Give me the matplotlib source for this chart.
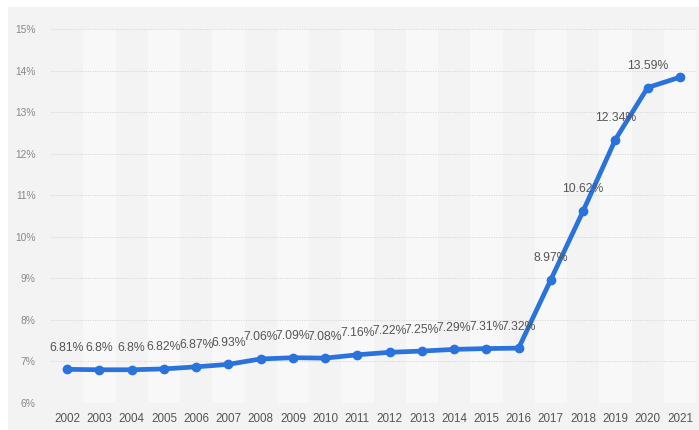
import numpy as np
import matplotlib.pyplot as plt
from matplotlib.patches import Rectangle

years = list(range(2002, 2022))
rates = [6.81, 6.8, 6.8, 6.82, 6.87, 6.93, 7.06, 7.09, 7.08, 7.16,
         7.22, 7.25, 7.29, 7.31, 7.32, 8.97, 10.62, 12.34, 13.59, 13.84]
labels = ['6.81%', '6.8%', '6.8%', '6.82%', '6.87%', '6.93%', '7.06%', '7.09%',
          '7.08%', '7.16%', '7.22%', '7.25%', '7.29%', '7.31%', '7.32%',
          '8.97%', '10.62%', '12.34%', '13.59%', '']
yticks = list(range(6, 16))

plt.rcParams['font.family'] = ['Liberation Sans', 'DejaVu Sans']

W, H = 699, 430
fig = plt.figure(figsize=(W / 100, H / 100), dpi=100, facecolor='white')
# grey panel behind the chart
fig.patches.append(Rectangle((8 / W, 0), 1, 1 - 7 / H, transform=fig.transFigure,
                             facecolor='#f3f3f3', edgecolor='none', zorder=-10))

ax = fig.add_axes([51 / W, 27 / H, (696 - 51) / W, (403 - 29) / H])
ax.set_facecolor('none')
ax.set_xlim(years[0] - 0.5, years[-1] + 0.5)
ax.set_ylim(6, 15)

# alternating column bands
for i, yr in enumerate(years):
    if i % 2 == 1:
        ax.axvspan(yr - 0.5, yr + 0.5, color='#f8f8f8', zorder=0, lw=0)

for t in yticks:
    ax.axhline(t, color='#d2d2d2', lw=0.7, ls=(0, (1, 1.5)), zorder=1)

ax.plot(years, rates, color='#2a72dc', lw=3.4, marker='o', markersize=6,
        solid_capstyle='round', zorder=3)

for x, y, lab in zip(years, rates, labels):
    if lab:
        ax.annotate(lab, (x, y), xytext=(0, 15.5), textcoords='offset points',
                    ha='center', va='center', fontsize=8.8, color='#555555', zorder=4)

ax.set_xticks(years)
ax.set_xticklabels([str(y) for y in years], fontsize=8.4, color='#555555')
ax.set_yticks(yticks)
ax.set_yticklabels([f'{t}%' for t in yticks], fontsize=7.4, color='#888888')
ax.tick_params(length=0)
ax.tick_params(axis='x', pad=7)
ax.tick_params(axis='y', pad=11)
for s in ax.spines.values():
    s.set_visible(False)

fig.savefig('out.png', dpi=100)
